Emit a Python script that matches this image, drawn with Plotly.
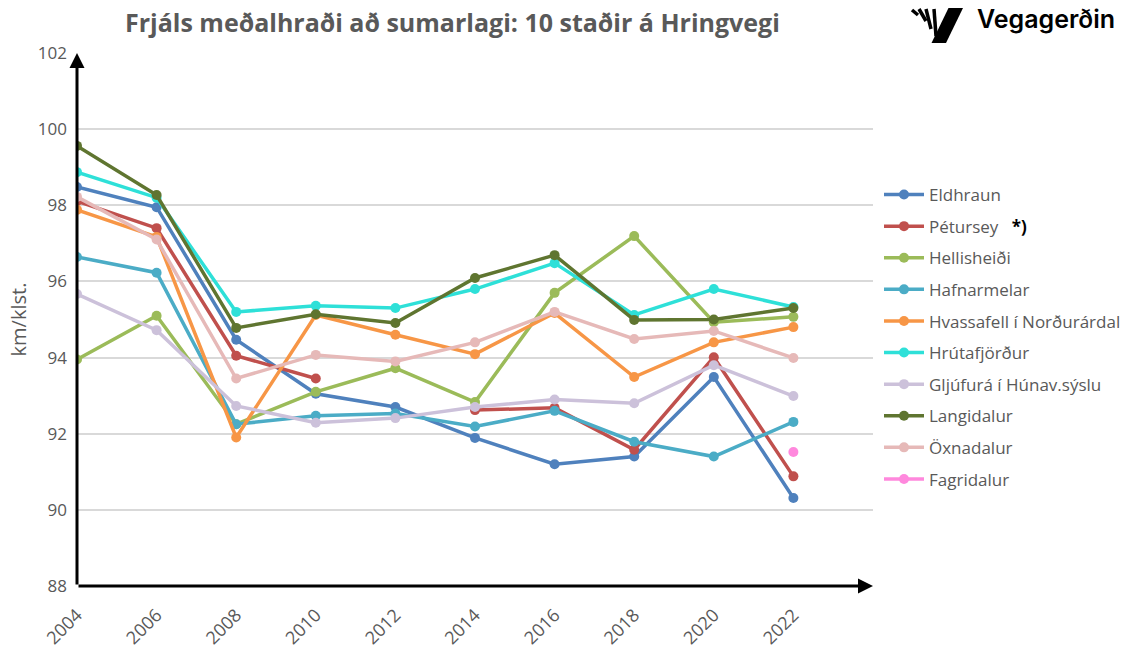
import plotly.graph_objects as go

years = [2004, 2006, 2008, 2010, 2012, 2014, 2016, 2018, 2020, 2022]

eldhraun    = [98.48, 97.95, 94.47, 93.05, 92.70, 91.89, 91.20, 91.40, 93.49, 90.31]
petursey    = [98.11, 97.40, 94.05, 93.45, None, 92.62, 92.68, 91.58, 94.01, 90.88]
hellisheidi = [93.95, 95.10, 92.25, 93.10, 93.72, 92.83, 95.70, 97.19, 94.93, 95.07]
hafnarmelar = [96.64, 96.23, 92.25, 92.47, 92.53, 92.19, 92.60, 91.79, 91.40, 92.31]
hvassafell  = [97.88, 97.17, 91.90, 95.12, 94.60, 94.09, 95.17, 93.49, 94.40, 94.80]
hrutafj     = [98.87, 98.20, 95.20, 95.36, 95.30, 95.80, 96.48, 95.12, 95.80, 95.33]
gljufura    = [95.67, 94.72, 92.73, 92.29, 92.41, 92.70, 92.90, 92.80, 93.80, 92.99]
langidalur  = [99.56, 98.27, 94.78, 95.14, 94.91, 96.09, 96.69, 94.99, 95.00, 95.30]
oxnadalur   = [98.22, 97.10, 93.45, 94.07, 93.90, 94.40, 95.20, 94.49, 94.70, 93.99]
fagridalur  = [None, None, None, None, None, None, None, None, None, 91.52]

names = ["Eldhraun", "Pétursey", "Hellisheiði", "Hafnarmelar",
         "Hvassafell í Norðurárdal", "Hrútafjörður", "Gljúfurá í Húnav.sýslu",
         "Langidalur", "Öxnadalur", "Fagridalur"]
series = [eldhraun, petursey, hellisheidi, hafnarmelar, hvassafell, hrutafj,
          gljufura, langidalur, oxnadalur, fagridalur]
colors = ["#4F81BD", "#C0504D", "#9BBB59", "#4BACC6", "#F79646", "#2EE0D8",
          "#CCC1DA", "#5F7530", "#E6B9B8", "#FF88DD"]

y_ticks = [88, 90, 92, 94, 96, 98, 100, 102]

GRAY = "#595959"
FONT = "Open Sans"

fig = go.Figure()
for nm, vals, col in zip(names, series, colors):
    label = nm
    if nm == "Pétursey":
        label = 'Pétursey   <span style="color:black"><b>*)</b></span>'
    fig.add_trace(go.Scatter(
        x=years, y=vals, name=label, mode="lines+markers",
        line=dict(color=col, width=3.5), marker=dict(color=col, size=10),
        connectgaps=False, legendgroup=nm,
    ))

# plot-area geometry in pixels (for decoration placement)
L, R, T, B = 77, 873, 53, 586
W, H = 1124, 650
def px(x):
    return (x - L) / (R - L)
def py(y):
    return (B - y) / (B - T)

shapes = []
# logo big parallelogram
pts = [(948.5, 8), (963, 8), (946, 43), (931.5, 43)]
path = "M " + " L ".join(f"{px(a)},{py(b)}" for a, b in pts) + " Z"
shapes.append(dict(type="path", xref="paper", yref="paper", path=path,
                   fillcolor="black", line=dict(width=0)))
for (x0, y0, x1, y1) in [(912, 10, 918, 15), (919, 9, 926, 21), (926, 9, 931, 29), (934, 9, 936, 36)]:
    shapes.append(dict(type="line", xref="paper", yref="paper",
                       x0=px(x0), y0=py(y0), x1=px(x1), y1=py(y1),
                       line=dict(color="black", width=3.5)))

annotations = [
    # y axis arrow
    dict(x=0, y=1.0, xref="paper", yref="paper", ax=0, ay=B - T, axref="pixel", ayref="pixel",
         showarrow=True, arrowhead=2, arrowsize=1, arrowwidth=3, arrowcolor="black", text=""),
    # x axis arrow
    dict(x=1.0, y=0, xref="paper", yref="paper", ax=-(R - L), ay=0, axref="pixel", ayref="pixel",
         showarrow=True, arrowhead=2, arrowsize=1, arrowwidth=3, arrowcolor="black", text=""),
    # title
    dict(x=px(452), y=py(22), xref="paper", yref="paper", showarrow=False,
         text="<b>Frjáls meðalhraði að sumarlagi: 10 staðir á Hringvegi</b>",
         font=dict(family=FONT, size=25, color=GRAY), xanchor="center", yanchor="middle"),
    # logo text
    dict(x=px(975), y=py(19), xref="paper", yref="paper", showarrow=False,
         text="Vegagerðin", font=dict(family="Inter", size=25, color="black", weight=600),
         xanchor="left", yanchor="middle"),
]

fig.update_layout(
    width=W, height=H,
    margin=dict(l=L, r=W - R, t=T, b=H - B),
    plot_bgcolor="white", paper_bgcolor="white",
    font=dict(family=FONT, color=GRAY),
    showlegend=True,
    legend=dict(x=879 / W, y=1 - 337 / H, xref="container", yref="container",
                xanchor="left", yanchor="middle",
                font=dict(family=FONT, size=17, color=GRAY),
                tracegroupgap=6.5, itemwidth=40, bgcolor="rgba(0,0,0,0)"),
    shapes=shapes, annotations=annotations,
)
fig.update_xaxes(range=[2004, 2024], tickvals=years, ticktext=[str(y) for y in years],
                 tickangle=-45, showgrid=False, zeroline=False, showline=False,
                 ticklabelstandoff=14,
                 tickfont=dict(family=FONT, size=18, color=GRAY), ticks="", automargin=False)
fig.update_yaxes(range=[88, 102], tickvals=y_ticks, showgrid=True, gridcolor="#D9D9D9",
                 gridwidth=1.5, zeroline=False, showline=False, ticks="",
                 ticklabelstandoff=9,
                 tickfont=dict(family=FONT, size=17, color=GRAY), automargin=False,
                 title=dict(text="km/klst.", font=dict(family=FONT, size=20, color=GRAY), standoff=5))

fig.write_html("out.html", config={"displayModeBar": False},
               post_script="document.body.style.margin='0';")
